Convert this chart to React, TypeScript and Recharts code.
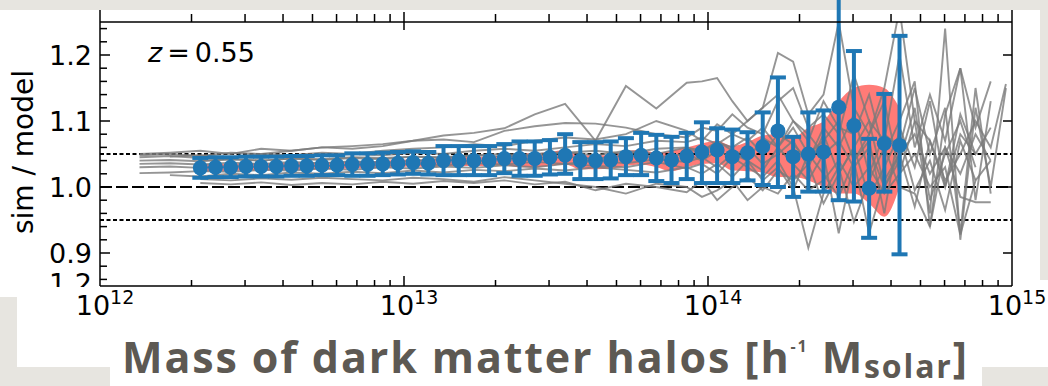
import React from 'react';
import {
  Area,
  ComposedChart,
  ErrorBar,
  Line,
  ReferenceLine,
  Scatter,
  XAxis,
  YAxis,
} from 'recharts';

// log10 of halo mass, bin centres of the blue points
const blueMass = [
  12.33, 12.38, 12.43, 12.48, 12.53, 12.58, 12.63, 12.68, 12.73, 12.78,
  12.83, 12.88, 12.93, 12.98, 13.03, 13.08, 13.13, 13.18, 13.23, 13.28,
  13.33, 13.38, 13.43, 13.48, 13.53, 13.58, 13.63, 13.68, 13.73, 13.78,
  13.83, 13.88, 13.93, 13.98, 14.03, 14.08, 14.13, 14.18, 14.23, 14.28,
  14.33, 14.38, 14.43, 14.48, 14.53, 14.58, 14.63,
];
const blueRatio = [
  1.029, 1.03, 1.03, 1.031, 1.031, 1.031, 1.032, 1.032, 1.033, 1.033,
  1.034, 1.034, 1.035, 1.036, 1.037, 1.036, 1.04, 1.04, 1.04, 1.04,
  1.043, 1.043, 1.043, 1.045, 1.048, 1.04, 1.04, 1.041, 1.046, 1.048,
  1.044, 1.041, 1.047, 1.053, 1.056, 1.046, 1.052, 1.061, 1.085, 1.046,
  1.05, 1.053, 1.121, 1.093, 0.998, 1.066, 1.063,
];
const blueHigh = [
  1.044, 1.045, 1.045, 1.046, 1.046, 1.046, 1.047, 1.047, 1.048, 1.048,
  1.051, 1.051, 1.052, 1.053, 1.054, 1.053, 1.062, 1.062, 1.062, 1.062,
  1.065, 1.069, 1.069, 1.071, 1.08, 1.068, 1.068, 1.069, 1.074, 1.082,
  1.079, 1.076, 1.082, 1.098, 1.089, 1.087, 1.083, 1.113, 1.166, 1.076,
  1.113, 1.116, 1.3, 1.206, 1.073, 1.141, 1.229,
];
const blueLow = [
  1.014, 1.015, 1.015, 1.016, 1.016, 1.016, 1.017, 1.017, 1.018, 1.018,
  1.017, 1.017, 1.018, 1.019, 1.02, 1.019, 1.018, 1.018, 1.018, 1.018,
  1.021, 1.017, 1.017, 1.019, 1.02, 1.012, 1.012, 1.013, 1.018, 1.018,
  1.009, 1.006, 1.012, 1.006, 1.006, 1.006, 1.01, 1.003, 1.0, 0.985,
  0.993, 0.993, 0.98, 0.978, 0.923, 0.993, 0.898,
];
// red shaded range
const bandLow = [
  1.023, 1.024, 1.024, 1.025, 1.025, 1.025, 1.026, 1.026, 1.027, 1.027,
  1.028, 1.028, 1.029, 1.03, 1.031, 1.03, 1.032, 1.032, 1.032, 1.032,
  1.033, 1.03, 1.03, 1.032, 1.034, 1.027, 1.027, 1.028, 1.032, 1.034,
  1.03, 1.024, 1.03, 1.035, 1.036, 1.025, 1.024, 1.022, 1.015, 1.015,
  1.01, 1.0, 0.99, 0.99, 0.975, 0.955, 1.0,
];
const bandHigh = [
  1.034, 1.035, 1.035, 1.036, 1.036, 1.036, 1.037, 1.037, 1.038, 1.038,
  1.039, 1.039, 1.04, 1.041, 1.042, 1.041, 1.046, 1.046, 1.046, 1.046,
  1.049, 1.051, 1.051, 1.053, 1.056, 1.048, 1.048, 1.049, 1.054, 1.056,
  1.052, 1.055, 1.06, 1.066, 1.07, 1.062, 1.068, 1.078, 1.08, 1.075,
  1.09, 1.1, 1.13, 1.15, 1.155, 1.15, 1.12,
];

// grey realisations
const greyMass = [
  12.13, 12.23, 12.33, 12.43, 12.53, 12.63, 12.73, 12.83, 12.93, 13.03,
  13.13, 13.23, 13.33, 13.43, 13.53, 13.63, 13.73, 13.83, 13.93, 13.98,
  14.03, 14.08, 14.13, 14.18, 14.23, 14.28, 14.33, 14.38, 14.43, 14.48,
  14.53, 14.58, 14.63, 14.68, 14.73, 14.78, 14.83, 14.88, 14.93, 14.98,
];
const grey1 = [1.05, 1.052, 1.055, 1.05, 1.058, 1.055, 1.06, 1.062, 1.065, 1.07, 1.078, 1.082, 1.089, 1.11, 1.126, 1.07, 1.153, 1.119, 1.158, 1.16, 1.165, 1.13, 1.1, 1.12, 1.14, 1.1, 1.08, 1.05, 1.07, 1.03, 1.06, 1.0, 1.04, 1.12, 0.98, 1.05, 1.1, 1.03, null, null];
const grey2 = [1.048, 1.05, 1.047, 1.052, 1.05, 1.055, 1.06, 1.058, 1.062, 1.07, 1.072, 1.068, 1.085, 1.092, 1.097, 1.096, 1.09, 1.08, 1.075, 1.09, 1.085, 1.11, 1.09, 1.08, 1.13, 1.15, 1.09, 1.11, 1.08, 1.17, 1.1, 1.07, 1.2, 1.06, 1.14, 1.07, 1.18, 1.09, 1.16, null];
const grey3 = [null, 1.046, 1.048, 1.045, 1.05, 1.048, 1.052, 1.05, 1.055, 1.058, 1.06, 1.065, 1.062, 1.07, 1.075, 1.072, 1.08, 1.1, 1.085, 1.07, 1.095, 1.08, 1.1, 1.12, 1.203, 1.19, 1.11, 1.14, 1.25, 1.12, 1.08, 1.15, 1.27, 1.1, 0.96, 1.24, 0.92, 1.12, 1.0, 1.15];
const grey4 = [1.045, 1.047, 1.044, 1.046, 1.044, 1.048, 1.047, 1.05, 1.048, 1.052, 1.05, 1.055, 1.058, 1.055, 1.06, 1.065, 1.062, 1.07, 1.068, 1.075, 1.065, 1.08, 1.07, 1.09, 1.06, 1.1, 1.07, 1.13, 1.09, 1.08, 1.14, 1.05, 1.1, 1.16, 0.94, 1.11, 1.18, 0.98, 1.13, null];
const grey5 = [null, null, 1.04, 1.042, 1.04, 1.043, 1.042, 1.045, 1.044, 1.046, 1.045, 1.048, 1.05, 1.047, 1.052, 1.055, 1.05, 1.058, 1.06, 1.055, 1.068, 1.06, 1.075, 1.05, 1.08, 1.065, 1.04, 1.09, 1.06, 1.11, 1.02, 1.08, 1.06, 1.15, 1.05, 1.12, 0.93, 1.15, 0.99, null];
const grey6 = [1.035, 1.036, 1.034, 1.037, 1.035, 1.038, 1.036, 1.039, 1.037, 1.04, 1.042, 1.038, 1.044, 1.04, 1.046, 1.043, 1.048, 1.045, 1.05, 1.04, 1.055, 1.045, 1.06, 1.035, 1.05, 1.07, 1.03, 1.08, 1.02, 1.06, 1.1, 1.0, 1.05, 1.08, 1.02, 1.06, 0.985, 0.977, 0.977, null];
const grey7 = [1.03, 1.031, 1.029, 1.032, 1.03, 1.033, 1.031, 1.034, 1.032, 1.035, 1.033, 1.036, 1.034, 1.038, 1.035, 1.04, 1.036, 1.042, 1.038, 1.045, 1.03, 1.05, 1.04, 1.025, 1.06, 1.035, 1.01, 1.05, 0.93, 1.04, 1.07, 0.96, 1.09, 1.03, 1.13, 1.0, 1.08, 1.05, null, null];
const grey8 = [1.021, 1.022, 1.024, 1.023, 1.026, 1.025, 1.028, 1.026, 1.03, 1.028, 1.031, 1.029, 1.033, 1.03, 1.035, 1.032, 1.03, 1.038, 1.028, 1.035, 1.02, 1.045, 1.03, 1.015, 1.04, 1.0, 0.908, 0.99, 1.03, 0.947, 1.01, 1.06, 1.0, 0.99, 0.94, 1.06, 1.02, 1.08, 1.04, null];
const grey9 = [null, 1.018, 1.016, 1.02, 1.018, 1.022, 1.02, 1.023, 1.021, 1.025, 1.022, 1.026, 1.024, 1.028, 1.025, 1.03, 1.026, 1.022, 1.03, 1.02, 1.035, 1.015, 1.04, 1.01, 1.03, 0.995, 1.05, 1.02, 0.985, 1.04, 0.93, 1.01, 1.05, 0.97, 1.07, 1.0, 1.11, 1.05, 1.09, null];
const grey10 = [null, null, 1.012, 1.01, 1.013, 1.011, 1.014, 1.012, 1.01, 1.014, 1.012, 1.008, 1.015, 1.01, 1.005, 1.0, 0.99, 1.005, 1.0, 0.985, 0.995, 1.01, 0.98, 1.0, 0.99, 1.02, 0.995, 1.01, 1.04, 1.0, 1.03, 0.99, 1.02, 1.05, 1.0, 1.03, 0.928, 1.01, 1.04, null];
const grey11 = [null, null, 1.006, 1.004, 1.007, 1.003, 1.006, 1.004, 1.008, 1.005, 1.009, 1.006, 1.01, 1.004, 1.008, 0.995, 1.005, 1.0, 0.992, 1.01, 0.98, 1.0, 1.015, 0.995, 1.025, 1.01, 1.035, 0.975, 1.02, 1.06, 0.985, 1.03, 1.08, 0.995, 1.04, 0.965, 1.07, 1.01, null, null];
const grey12 = [1.04, 1.041, 1.039, 1.042, 1.04, 1.043, 1.041, 1.044, 1.042, 1.046, 1.044, 1.048, 1.046, 1.05, 1.053, 1.048, 1.055, 1.05, 1.06, 1.05, 1.07, 1.055, 1.04, 1.075, 1.06, 1.09, 1.05, 1.07, 1.1, 1.04, 1.08, 1.13, 1.02, 1.1, 1.07, 1.01, 1.05, 1.1, 1.06, 1.156];
const greyRuns = [grey1, grey2, grey3, grey4, grey5, grey6, grey7, grey8, grey9, grey10, grey11, grey12];

const yTicks = [
  0.86, 0.88, 0.9, 0.92, 0.94, 0.96, 0.98, 1.0, 1.02, 1.04,
  1.06, 1.08, 1.1, 1.12, 1.14, 1.16, 1.18, 1.2, 1.22, 1.24,
];
const yMajor = [0.9, 1.0, 1.1, 1.2];
const decades = [12, 13, 14];
const xTicks = decades
  .flatMap((d) => [1, 2, 3, 4, 5, 6, 7, 8, 9].map((k) => d + Math.log10(k)))
  .concat(15);
const refLevels = [1.05, 1.0, 0.95];

const FONT = '"DejaVu Sans", sans-serif';
const BLUE = '#1f77b4';

const blueData = blueMass.map((m, i) => ({
  m,
  v: blueRatio[i],
  err: [blueRatio[i] - blueLow[i], blueHigh[i] - blueRatio[i]],
  band: [bandLow[i], bandHigh[i]],
}));
const greyData = greyRuns.map((run) =>
  greyMass.map((m, i) => ({ m, v: run[i] })),
);

const isInt = (v: number) => Math.abs(v - Math.round(v)) < 1e-6;
const isTenth = (v: number) => Math.abs(v * 10 - Math.round(v * 10)) < 1e-6;
const isEdge = (v: number) => isInt(v) && (Math.round(v) === 12 || Math.round(v) === 15);

const BottomTick = (props: any) => {
  const { x, y, payload } = props;
  const v = payload.value;
  const major = isInt(v);
  return (
    <g>
      {!isEdge(v) && (
        <line x1={x} x2={x} y1={y} y2={y - (major ? 10 : 6)} stroke="#000" strokeWidth={1.5} />
      )}
      {major && (
        <text x={x + 5} y={y + 29} textAnchor="middle" fontFamily={FONT} fontSize={27} fill="#000">
          10<tspan fontSize={19} dy={-11}>{Math.round(v)}</tspan>
        </text>
      )}
    </g>
  );
};

const TopTick = (props: any) => {
  const { x, y, payload } = props;
  const v = payload.value;
  if (isEdge(v)) {
    return <line x1={x} x2={x} y1={y - 12} y2={y} stroke="#000" strokeWidth={1.5} />;
  }
  return isInt(v) ? (
    <line x1={x} x2={x} y1={y - 10} y2={y + 8} stroke="#000" strokeWidth={1.5} />
  ) : (
    <line x1={x} x2={x} y1={y - 8} y2={y} stroke="#000" strokeWidth={1.5} />
  );
};

const LeftTick = (props: any) => {
  const { x, y, payload } = props;
  const v = payload.value;
  const major = isTenth(v);
  return (
    <g>
      <line x1={x} x2={x + (major ? 10 : 7)} y1={y} y2={y} stroke="#000" strokeWidth={1.5} />
      {major && (
        <text x={x - 8} y={y + 10} textAnchor="end" fontFamily={FONT} fontSize={27} fill="#000">
          {v.toFixed(1)}
        </text>
      )}
    </g>
  );
};

const RightTick = (props: any) => {
  const { x, y } = props;
  return <line x1={x - 9} x2={x} y1={y} y2={y} stroke="#000" strokeWidth={1.5} />;
};

const spine = { stroke: '#000', strokeWidth: 1.5 };

const BlueDot = (p: any) => <circle cx={p.cx} cy={p.cy} r={7.5} fill={BLUE} />;

const App: React.FC = () => {
  return (
    <div
      style={{
        position: 'absolute',
        left: 0,
        top: 0,
        width: 1048,
        height: 386,
        background: '#e7e5e0',
        overflow: 'hidden',
      }}
    >
      <div style={{ position: 'absolute', left: 0, top: 10, width: 1040, height: 287, background: '#fff' }} />
      <div style={{ position: 'absolute', left: 17, top: 280, width: 1031, height: 87, background: '#fff' }} />
      <div style={{ position: 'absolute', left: 110, top: 290, width: 872, height: 96, background: '#fff' }} />

      <div style={{ position: 'absolute', left: 0, top: 0 }}>
        <ComposedChart
          width={1048}
          height={386}
          data={blueData}
          margin={{ top: 21, right: 35, bottom: 99, left: 99 }}
        >
          <XAxis
            dataKey="m"
            type="number"
            domain={[12, 15]}
            ticks={xTicks}
            interval={0}
            height={1}
            tickSize={0}
            tickMargin={0}
            tickLine={false}
            tick={(p: any) => <BottomTick {...p} />}
            axisLine={spine}
            allowDataOverflow
          />
          <XAxis
            xAxisId="top"
            orientation="top"
            dataKey="m"
            type="number"
            domain={[12, 15]}
            ticks={xTicks}
            interval={0}
            height={1}
            tickSize={0}
            tickMargin={0}
            tickLine={false}
            tick={(p: any) => <TopTick {...p} />}
            axisLine={spine}
            allowDataOverflow
          />
          <YAxis
            type="number"
            domain={[0.85, 1.25]}
            ticks={yTicks}
            interval={0}
            width={1}
            tickSize={0}
            tickMargin={0}
            tickLine={false}
            tick={(p: any) => <LeftTick {...p} />}
            axisLine={spine}
            allowDataOverflow
          />
          <YAxis
            yAxisId="right"
            orientation="right"
            type="number"
            domain={[0.85, 1.25]}
            ticks={yMajor}
            interval={0}
            width={1}
            tickSize={0}
            tickMargin={0}
            tickLine={false}
            tick={(p: any) => <RightTick {...p} />}
            axisLine={spine}
            allowDataOverflow
          />

          <Area
            dataKey="band"
            type="monotone"
            fill="#ff7b77"
            fillOpacity={1}
            stroke="none"
            isAnimationActive={false}
          />

          {refLevels.map((lv) => (
            <ReferenceLine
              key={lv}
              y={lv}
              stroke="#000"
              strokeWidth={1.8}
              strokeDasharray={lv === 1 ? '12 4' : '4 2.5'}
            />
          ))}

          {greyData.map((d, i) => (
            <Line
              key={`grey-${i}`}
              data={d}
              dataKey="v"
              type="linear"
              stroke="#7a7a7a"
              strokeOpacity={0.8}
              strokeWidth={1.9}
              dot={false}
              activeDot={false}
              isAnimationActive={false}
            />
          ))}

          <Scatter data={blueData} dataKey="v" shape={BlueDot} isAnimationActive={false}>
            <ErrorBar dataKey="err" direction="y" width={8} strokeWidth={4} stroke={BLUE} />
          </Scatter>
        </ComposedChart>
      </div>

      <svg width={1048} height={386} style={{ position: 'absolute', left: 0, top: 0 }}>
        <defs>
          <clipPath id="frag">
            <rect x={40} y={268} width={60} height={19} />
          </clipPath>
        </defs>
        <text
          transform="translate(33,152) rotate(-90)"
          textAnchor="middle"
          fontFamily={FONT}
          fontSize={28}
          fill="#000"
        >
          sim / model
        </text>
        <text x={148} y={62} fontFamily={FONT} fontSize={27} fill="#000">
          <tspan fontStyle="italic">z</tspan>
          <tspan dx={5}>=</tspan>
          <tspan dx={5}>0.55</tspan>
        </text>
        <g clipPath="url(#frag)">
          <text x={92} y={293} textAnchor="end" fontFamily={FONT} fontSize={27} fill="#000">
            1.2
          </text>
        </g>
        <text
          x={122}
          y={373}
          fontFamily='"Open Sans", sans-serif'
          fontWeight={700}
          fontSize={43}
          fill="#5d5953"
          textLength={845}
          lengthAdjust="spacing"
        >
          Mass of dark matter halos [h
          <tspan fontSize={16} dy={-21}>-1</tspan>
          <tspan fontSize={43} dy={21}>{' M'}</tspan>
          <tspan fontSize={32} dy={5}>solar</tspan>
          <tspan fontSize={43} dy={-5}>]</tspan>
        </text>
      </svg>
    </div>
  );
};

export default App;
